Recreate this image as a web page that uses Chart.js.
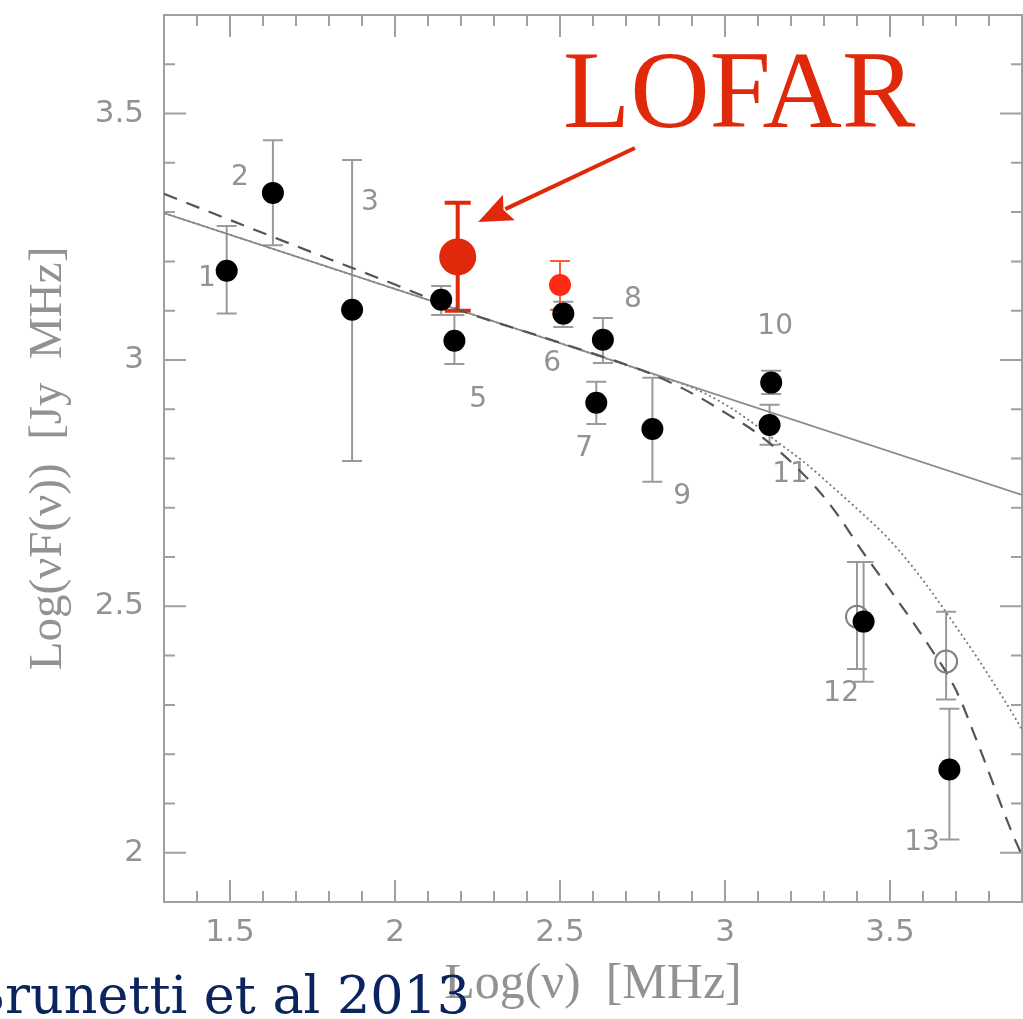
<!DOCTYPE html>
<html>
<head>
<meta charset="utf-8">
<script src="https://cdn.jsdelivr.net/npm/chart.js@4.4.1/dist/chart.umd.min.js"></script>
<style>
  html, body { margin: 0; padding: 0; background: #ffffff; }
  #wrap { width: 1023px; height: 1019px; position: relative; }
</style>
</head>
<body>
<div id="wrap"><canvas id="c" width="1023" height="1019"></canvas></div>
<script>
// ---------------- data ----------------
const xTickValues = [1.5, 2, 2.5, 3, 3.5];
const xTickLabels = ['1.5', '2', '2.5', '3', '3.5'];
const yTickValues = [2, 2.5, 3, 3.5];
const yTickLabels = ['2', '2.5', '3', '3.5'];

// black (filled) points with error bars
const blackX  = [1.49, 1.63, 1.87, 2.14, 2.18, 2.51, 2.61, 2.63, 2.78, 3.14, 3.135, 3.42, 3.68];
const blackY  = [3.181, 3.339, 3.102, 3.122, 3.039, 3.094, 2.913, 3.041, 2.860, 2.954, 2.868, 2.469, 2.169];
const blackLo = [3.094, 3.233, 2.795, 3.091, 2.992, 3.067, 2.870, 2.994, 2.753, 2.931, 2.828, 2.347, 2.027];
const blackHi = [3.272, 3.446, 3.406, 3.150, 3.091, 3.118, 2.956, 3.085, 2.964, 2.978, 2.909, 2.590, 2.292];

// open circles
const openX  = [3.40, 3.67];
const openY  = [2.479, 2.388];
const openLo = [2.373, 2.311];
const openHi = [2.590, 2.489];

// small red point
const redX  = [2.50];
const redY  = [3.152];
const redLo = [3.102];
const redHi = [3.201];

// LOFAR point
const lofarX  = [2.19];
const lofarY  = [3.209];
const lofarLo = [3.100];
const lofarHi = [3.319];

// model curves
const solidX  = [1.3, 3.9];
const solidY  = [3.298, 2.726];
const dashedX = [1.3, 1.5, 1.8, 2.0, 2.2, 2.5, 2.8, 2.92, 3.0, 3.1, 3.22, 3.32, 3.42, 3.52, 3.62, 3.70, 3.77, 3.87, 3.9];
const dashedY = [3.337, 3.284, 3.205, 3.153, 3.100, 3.035, 2.965, 2.925, 2.893, 2.850, 2.780, 2.705, 2.608, 2.515, 2.418, 2.330, 2.215, 2.040, 1.995];
const dottedX = [1.3, 2.0, 2.5, 2.8, 2.9, 3.0, 3.08, 3.16, 3.25, 3.33, 3.41, 3.49, 3.57, 3.65, 3.71, 3.76, 3.82, 3.87, 3.9];
const dottedY = [3.298, 3.144, 3.034, 2.967, 2.944, 2.910, 2.874, 2.833, 2.787, 2.740, 2.692, 2.641, 2.579, 2.507, 2.449, 2.400, 2.338, 2.284, 2.250];

// point number labels (data coordinates)
const numLabels = ['1', '2', '3', '5', '6', '7', '8', '9', '10', '11', '12', '13'];
const numLabelX = [1.430, 1.530, 1.924, 2.252, 2.476, 2.573, 2.721, 2.870, 3.152, 3.197, 3.352, 3.597];
const numLabelY = [3.165, 3.369, 3.319, 2.919, 2.992, 2.820, 3.122, 2.722, 3.067, 2.767, 2.323, 2.020];

// annotation (data coordinates)
const lofarText = 'LOFAR';
const lofarTextPos = [2.509, 3.473];
const arrowFrom = [2.727, 3.430];
const arrowTo   = [2.252, 3.280];
const citeText = 'Brunetti et al 2013';
const citeVisible = 'runetti et al 2013';

const zip = (xs, ys) => xs.map((x, i) => ({ x: x, y: ys[i] }));

const GRAY = '#929292';
const AXIS = '#a0a0a0';
const RED = '#e0280a';

const extras = {
  id: 'extras',
  beforeDatasetsDraw(chart) {
    const ctx = chart.ctx;
    const xs = chart.scales.x, ys = chart.scales.y;
    const a = chart.chartArea;
    ctx.save();
    ctx.strokeStyle = AXIS;
    ctx.lineWidth = 2;
    ctx.strokeRect(a.left, a.top, a.right - a.left, a.bottom - a.top);
    for (let i = Math.round(xs.min * 10); i <= Math.round(xs.max * 10); i++) {
      const px = xs.getPixelForValue(i / 10);
      const len = (i % 5 === 0) ? 22 : 11;
      ctx.beginPath();
      ctx.moveTo(px, a.bottom); ctx.lineTo(px, a.bottom - len);
      ctx.moveTo(px, a.top); ctx.lineTo(px, a.top + len);
      ctx.stroke();
    }
    for (let i = Math.round(ys.min * 10); i <= Math.round(ys.max * 10); i++) {
      const py = ys.getPixelForValue(i / 10);
      const len = (i % 5 === 0) ? 22 : 11;
      ctx.beginPath();
      ctx.moveTo(a.left, py); ctx.lineTo(a.left + len, py);
      ctx.moveTo(a.right, py); ctx.lineTo(a.right - len, py);
      ctx.stroke();
    }
    const bars = (X, Lo, Hi, color, width, cap) => {
      ctx.strokeStyle = color;
      ctx.lineWidth = width;
      X.forEach((x, i) => {
        const px = xs.getPixelForValue(x);
        const p1 = ys.getPixelForValue(Lo[i]);
        const p2 = ys.getPixelForValue(Hi[i]);
        ctx.beginPath();
        ctx.moveTo(px, p1); ctx.lineTo(px, p2);
        ctx.moveTo(px - cap, p1); ctx.lineTo(px + cap, p1);
        ctx.moveTo(px - cap, p2); ctx.lineTo(px + cap, p2);
        ctx.stroke();
      });
    };
    bars(openX, openLo, openHi, '#9a9a9a', 2, 10);
    bars(blackX, blackLo, blackHi, '#9a9a9a', 2, 10);
    bars(redX, redLo, redHi, '#ff5a40', 2, 10);
    bars(lofarX, lofarLo, lofarHi, RED, 4, 13);
    ctx.fillStyle = GRAY;
    ctx.font = '28px "DejaVu Sans"';
    ctx.textAlign = 'center';
    ctx.textBaseline = 'middle';
    numLabels.forEach((t, i) => {
      ctx.fillText(t, xs.getPixelForValue(numLabelX[i]), ys.getPixelForValue(numLabelY[i]));
    });
    ctx.restore();
  },
  afterDraw(chart) {
    const ctx = chart.ctx;
    const xs = chart.scales.x, ys = chart.scales.y;
    ctx.save();
    const x1 = xs.getPixelForValue(arrowFrom[0]), y1 = ys.getPixelForValue(arrowFrom[1]);
    const x2 = xs.getPixelForValue(arrowTo[0]), y2 = ys.getPixelForValue(arrowTo[1]);
    const ang = Math.atan2(y2 - y1, x2 - x1);
    const hl = 34, hw = 14;
    const bx = x2 - hl * Math.cos(ang), by = y2 - hl * Math.sin(ang);
    ctx.strokeStyle = RED;
    ctx.lineWidth = 4;
    ctx.beginPath();
    ctx.moveTo(x1, y1); ctx.lineTo(bx + 4 * Math.cos(ang), by + 4 * Math.sin(ang));
    ctx.stroke();
    ctx.fillStyle = RED;
    ctx.beginPath();
    ctx.moveTo(x2, y2);
    ctx.lineTo(bx - hw * Math.sin(ang), by + hw * Math.cos(ang));
    ctx.lineTo(bx + 6 * Math.cos(ang), by + 6 * Math.sin(ang));
    ctx.lineTo(bx + hw * Math.sin(ang), by - hw * Math.cos(ang));
    ctx.closePath();
    ctx.fill();
    ctx.font = '110px "Liberation Serif"';
    ctx.textAlign = 'left';
    ctx.textBaseline = 'alphabetic';
    ctx.fillText(lofarText, xs.getPixelForValue(lofarTextPos[0]), ys.getPixelForValue(lofarTextPos[1]));
    ctx.fillStyle = '#0b2460';
    ctx.font = '52px "DejaVu Serif"';
    const w = ctx.measureText(citeVisible).width;
    const size = Math.min(60, 52 * 465 / w);
    ctx.font = size.toFixed(1) + 'px "DejaVu Serif"';
    ctx.textAlign = 'right';
    ctx.fillText(citeText, 470, 1013);
    ctx.restore();
  }
};

const ctx = document.getElementById('c').getContext('2d');
new Chart(ctx, {
  type: 'scatter',
  data: {
    datasets: [
      { label: 'LOFAR', data: zip(lofarX, lofarY), pointRadius: 18.5, pointBackgroundColor: RED, pointBorderWidth: 0, order: 0 },
      { label: 'red', data: zip(redX, redY), pointRadius: 11, pointBackgroundColor: '#ff2a14', pointBorderWidth: 0, order: 1 },
      { label: 'black', data: zip(blackX, blackY), pointRadius: 11, pointBackgroundColor: '#000000', pointBorderWidth: 0, order: 2 },
      { label: 'open', data: zip(openX, openY), pointRadius: 11, pointBackgroundColor: 'rgba(255,255,255,0)', pointBorderColor: '#808080', pointBorderWidth: 2, order: 3 },
      { type: 'line', label: 'solid', data: zip(solidX, solidY), borderColor: '#8a8a8a', borderWidth: 1.6, pointRadius: 0, fill: false, order: 5 },
      { type: 'line', label: 'dashed', data: zip(dashedX, dashedY), borderColor: '#555555', borderWidth: 2.2, borderDash: [14, 10], pointRadius: 0, fill: false, cubicInterpolationMode: 'monotone', order: 4 },
      { type: 'line', label: 'dotted', data: zip(dottedX, dottedY), borderColor: '#777777', borderWidth: 1.8, borderDash: [2, 3], pointRadius: 0, fill: false, cubicInterpolationMode: 'monotone', order: 6 }
    ]
  },
  options: {
    responsive: false,
    animation: false,
    devicePixelRatio: 1,
    layout: { autoPadding: false, padding: { top: 15, right: 1, left: 0, bottom: 0 } },
    plugins: { legend: { display: false }, tooltip: { enabled: false } },
    scales: {
      x: {
        type: 'linear', min: 1.3, max: 3.9,
        grid: { display: false, drawTicks: false },
        border: { display: false },
        afterBuildTicks: (s) => { s.ticks = xTickValues.map(v => ({ value: v })); },
        afterFit: (s) => { s.height = 117; s.paddingLeft = 0; s.paddingRight = 0; },
        ticks: {
          callback: (v, i) => xTickLabels[i],
          color: GRAY, font: { family: 'DejaVu Sans', size: 31 }, padding: 12, maxRotation: 0, autoSkip: false
        },
        title: { display: true, text: 'Log(ν)  [MHz]', color: GRAY, font: { family: 'Liberation Serif', size: 50 }, padding: { top: 0, bottom: 4 } }
      },
      y: {
        type: 'linear', min: 1.9, max: 3.7,
        grid: { display: false, drawTicks: false },
        border: { display: false },
        afterBuildTicks: (s) => { s.ticks = yTickValues.map(v => ({ value: v })); },
        afterFit: (s) => { s.width = 164; s.paddingTop = 0; s.paddingBottom = 0; },
        ticks: {
          callback: (v, i) => yTickLabels[i],
          color: GRAY, font: { family: 'DejaVu Sans', size: 31 }, padding: 20, autoSkip: false
        },
        title: { display: true, text: 'Log(νF(ν))  [Jy  MHz]', color: GRAY, font: { family: 'Liberation Serif', size: 47 }, padding: { top: 20, bottom: 0 } }
      }
    }
  },
  plugins: [extras]
});
</script>
</body>
</html>
